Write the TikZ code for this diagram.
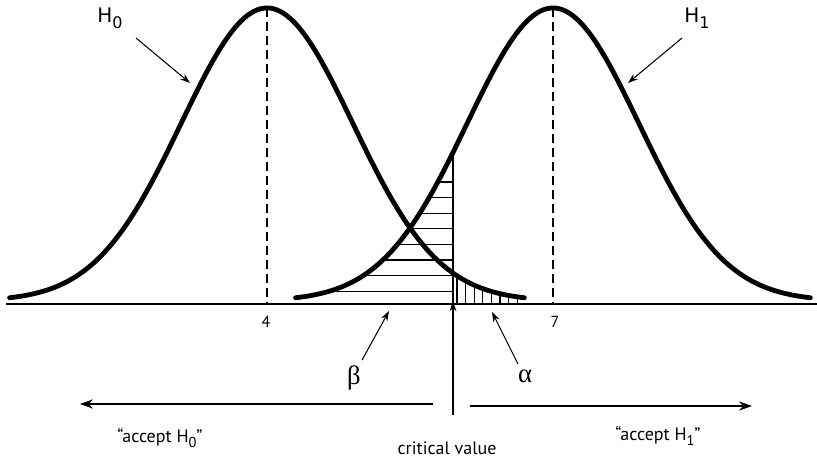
\documentclass[tikz,border=0pt]{standalone}
\usepackage{fontspec}
\usepackage{graphicx}
\setmainfont{PT Sans}
\newfontfamily\hfont{DejaVu Sans}
\newfontfamily\grfont{Liberation Serif}
\usetikzlibrary{arrows.meta, positioning, calc}

\def\sig{85.8}
\newcommand{\hsub}[1]{\raisebox{-0.55ex}{\scalebox{0.8}{#1}}}

\begin{document}
\begin{tikzpicture}[
    x=0.75pt, y=-0.75pt,
    >={Stealth[length=3.4mm, width=2.4mm]},
    curve/.style={line width=3.6pt, line cap=round},
    axisline/.style={line width=2.2pt},
    meanline/.style={line width=0.9pt, dash pattern=on 6.5pt off 4pt},
    hatch/.style={line width=1pt},
    critline/.style={line width=1.1pt},
    pointer/.style={-{Stealth[length=2.6mm, width=1.8mm]}, line width=0.8pt},
    regionarrow/.style={->, line width=1.6pt},
    hlabel/.style={font=\hfont\fontsize{15}{18}\selectfont, inner sep=1pt},
    ticklabel/.style={font=\fontsize{12}{14}\selectfont, inner sep=1pt},
    greek/.style={font=\grfont\fontsize{20}{22}\selectfont, inner sep=1pt},
    caption/.style={font=\fontsize{13.5}{16}\selectfont, inner sep=1pt},
]
\useasboundingbox (0,0) rectangle (817,459);

% --- Hatching: beta (horizontal, under H1 left of critical value) ----------
\foreach \k in {0,...,7} {
    \pgfmathsetmacro\yy{182+15.6*\k}
    \pgfmathsetmacro\xl{553-\sig*sqrt(2*ln(293/(301-\yy)))}
    \draw[hatch] (\xl,\yy) -- (453,\yy);
}
% --- Hatching: alpha (vertical, under H0 right of critical value) ----------
\foreach \k in {0,...,7} {
    \pgfmathsetmacro\xx{457+8.6*\k}
    \pgfmathsetmacro\yt{301-293*exp(-((\xx-267)/\sig)^2/2)}
    \draw[hatch] (\xx,304) -- (\xx,\yt);
}

% --- Mean lines ------------------------------------------------------------
\draw[meanline] (267,8) -- (267,304);
\draw[meanline] (553,8) -- (553,304);

% --- Critical value line ---------------------------------------------------
\pgfmathsetmacro\yc{301-293*exp(-((453-553)/\sig)^2/2)}
\coordinate (crittop) at (453,\yc);
\coordinate (critbase) at (453,304);
\draw[critline] (crittop) -- (critbase);

% --- The two curves --------------------------------------------------------
\draw[curve] plot[domain=-3:3, samples=120, smooth]
    ({267+\sig*\x}, {301-293*exp(-\x*\x/2)});
\draw[curve] plot[domain=-3:3, samples=120, smooth]
    ({553+\sig*\x}, {301-293*exp(-\x*\x/2)});

% --- Axis ------------------------------------------------------------------
\draw[axisline] (6,304) -- (817,304);

% --- Tick labels -----------------------------------------------------------
\node[ticklabel] (tick4) at (266,322) {4};
\node[ticklabel] (tick7) at (555,322) {7};

% --- Hypothesis labels -----------------------------------------------------
\node[hlabel] (h0lab) at (110,18) {H\hsub{0}};
\node[hlabel] (h1lab) at (697,18) {H\hsub{1}};
\coordinate (h0tail) at (136,38);
\coordinate (h0tip)  at (190,83);
\coordinate (h1tail) at (682,38);
\coordinate (h1tip)  at (628,83);
\draw[pointer] (h0tail) -- (h0tip);
\draw[pointer] (h1tail) -- (h1tip);

% --- Error labels ----------------------------------------------------------
\node[greek] (beta)  at (354,378) {β};
\node[greek] (alpha) at (525,376) {α};
\coordinate (betatip)  at (389,311);
\coordinate (alphatip) at (492,312);
\draw[pointer] (beta.north) ++(8,-4) -- (betatip);
\draw[pointer] (alpha.north) ++(-7,-4) -- (alphatip);

% --- Decision regions ------------------------------------------------------
\node[caption] (acc0) at (160,438) {“accept H\hsub{0}”};
\node[caption] (acc1) at (658,436) {“accept H\hsub{1}”};
\node[caption] (crit) at (447,448) {critical value};
\coordinate (critfoot) at (453,415);
\coordinate (leftend)  at (80,404);
\coordinate (rightend) at (752,406);
\draw[regionarrow] (433,404) -- (leftend);
\draw[regionarrow] (470,406) -- (rightend);
\draw[pointer] (critfoot) -- ([yshift=2]critbase);

\end{tikzpicture}
\end{document}
